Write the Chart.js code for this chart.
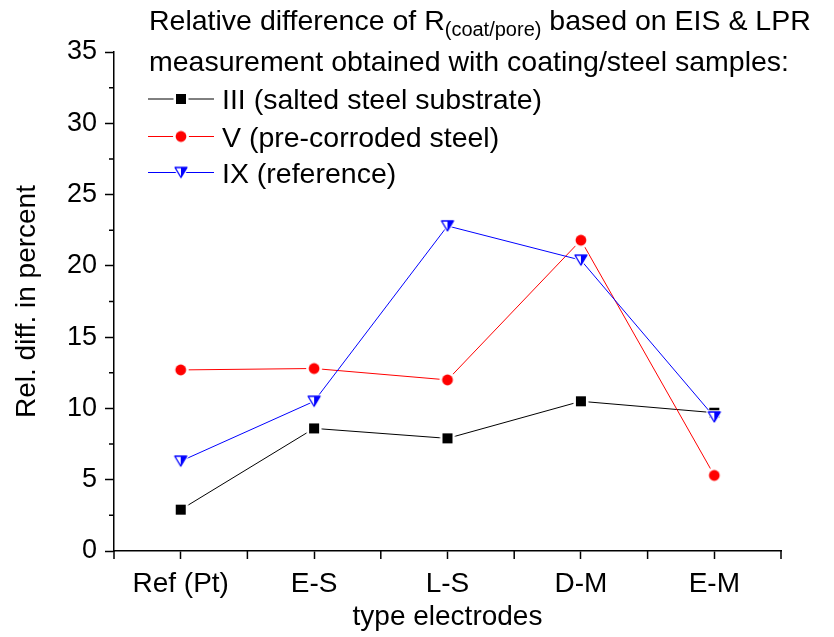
<!DOCTYPE html>
<html>
<head>
<meta charset="utf-8">
<title>Relative difference of R(coat/pore)</title>
<script src="https://cdn.jsdelivr.net/npm/chart.js@4"></script>
<style>
  body { margin: 0; background: #fff; }
  canvas { display: block; }
</style>
</head>
<body>
<canvas id="relDiffChart" width="834" height="637"></canvas>
<script>
const electrodes = ['Ref (Pt)', 'E-S', 'L-S', 'D-M', 'E-M'];
const saltedSteel = [2.9, 8.6, 7.9, 10.5, 9.7];
const preCorroded = [12.7, 12.8, 12.0, 21.8, 5.3];
const referenceSteel = [6.3, 10.5, 22.8, 20.4, 9.4];
const seriesNames = ['III (salted steel substrate)', 'V (pre-corroded steel)', 'IX (reference)'];
const yMin = 0, yMax = 35, yStep = 5;

const FONT = '"Liberation Sans", Arial, sans-serif';

// little canvases used as point styles, with a white rim so lines stop short of the marker
function makeMarker(shape, color) {
    const c = document.createElement('canvas');
    c.width = 20; c.height = 20;
    const g = c.getContext('2d');
    if (shape === 'square') {
        g.fillStyle = '#fff';
        g.fillRect(2.5, 2.5, 15, 15);
        g.fillStyle = color;
        g.fillRect(5, 5, 10, 10);
    } else if (shape === 'circle') {
        g.fillStyle = '#fff';
        g.beginPath(); g.arc(10, 10, 8, 0, Math.PI * 2); g.fill();
        g.fillStyle = color;
        g.beginPath(); g.arc(10, 10, 5.4, 0, Math.PI * 2); g.fill();
    } else {
        // downward triangle, right half filled
        const tri = () => { g.beginPath(); g.moveTo(4, 5); g.lineTo(16, 5); g.lineTo(10, 15); g.closePath(); };
        g.lineJoin = 'round';
        tri(); g.strokeStyle = '#fff'; g.lineWidth = 3.5; g.stroke();
        tri(); g.fillStyle = '#fff'; g.fill();
        g.beginPath(); g.moveTo(10, 5); g.lineTo(16, 5); g.lineTo(10, 15); g.closePath();
        g.fillStyle = color; g.fill();
        tri(); g.strokeStyle = color; g.lineWidth = 1.3; g.stroke();
    }
    return c;
}

const markers = [
    makeMarker('square', '#000000'),
    makeMarker('circle', '#ff0000'),
    makeMarker('triangle', '#0000ff')
];

// half-way ticks on y, category boundary ticks on x
const minorTicks = {
    id: 'minorTicks',
    afterDraw(chart) {
        const {ctx, scales: {x, y}} = chart;
        ctx.save();
        ctx.strokeStyle = '#000';
        ctx.lineWidth = 1.5;
        ctx.beginPath();
        for (let i = 0; i < y.ticks.length - 1; i++) {
            const py = y.getPixelForValue((y.ticks[i].value + y.ticks[i + 1].value) / 2);
            ctx.moveTo(y.right - 5, py);
            ctx.lineTo(y.right, py);
        }
        const half = (x.getPixelForValue(1) - x.getPixelForValue(0)) / 2;
        for (let i = 0; i <= electrodes.length; i++) {
            const px = x.getPixelForValue(0) - half + i * 2 * half;
            ctx.moveTo(px, x.top);
            ctx.lineTo(px, x.top + 8);
        }
        ctx.stroke();
        ctx.restore();
    }
};

// heading and series key in the upper part of the plot
const legendBlock = {
    id: 'legendBlock',
    afterDraw(chart) {
        const ctx = chart.ctx;
        const main = `28.5px ${FONT}`;
        const sub = `20px ${FONT}`;
        ctx.save();
        ctx.fillStyle = '#000';
        ctx.textBaseline = 'alphabetic';
        ctx.textAlign = 'left';

        let x = 149;
        ctx.font = main;
        ctx.fillText('Relative difference of R', x, 30);
        x += ctx.measureText('Relative difference of R').width;
        ctx.font = sub;
        ctx.fillText('(coat/pore)', x, 36);
        x += ctx.measureText('(coat/pore)').width;
        ctx.font = main;
        ctx.fillText(' based on EIS & LPR', x, 30);
        ctx.fillText('measurement obtained with coating/steel samples:', 149, 71);

        const rows = [99, 136.5, 172.5];
        chart.data.datasets.forEach((ds, i) => {
            const y = rows[i];
            ctx.strokeStyle = ds.borderColor;
            ctx.lineWidth = 1;
            ctx.beginPath();
            ctx.moveTo(148, y);
            ctx.lineTo(214, y);
            ctx.stroke();
            const img = ds.pointStyle;
            ctx.drawImage(img, 181 - img.width / 2, y - img.height / 2);
            ctx.fillStyle = '#000';
            ctx.fillText(ds.label, 222, y + 10);
        });
        ctx.restore();
    }
};

new Chart(document.getElementById('relDiffChart'), {
    type: 'line',
    data: {
        labels: electrodes,
        datasets: [
            { label: seriesNames[0], data: saltedSteel, borderColor: '#000000', pointStyle: markers[0], order: 2 },
            { label: seriesNames[1], data: preCorroded, borderColor: '#ff0000', pointStyle: markers[1], order: 1 },
            { label: seriesNames[2], data: referenceSteel, borderColor: '#0000ff', pointStyle: markers[2], order: 0 }
        ]
    },
    options: {
        responsive: false,
        animation: false,
        devicePixelRatio: 1,
        layout: { padding: { top: 52, right: 53, left: 0, bottom: 0 } },
        elements: {
            line: { borderWidth: 1, tension: 0, fill: false },
            point: { radius: 6 }
        },
        plugins: {
            legend: { display: false },
            title: { display: false },
            tooltip: { enabled: false }
        },
        scales: {
            x: {
                type: 'category',
                offset: true,
                grid: { drawOnChartArea: false, offset: false, tickLength: 8, tickColor: '#000', tickWidth: 1.5 },
                border: { display: true, color: '#000', width: 1.5 },
                ticks: { color: '#000', font: { family: FONT, size: 28 }, padding: 8, maxRotation: 0, autoSkip: false },
                title: { display: true, text: 'type electrodes', color: '#000', font: { family: FONT, size: 28 }, padding: { top: 0, bottom: 3 } },
                afterFit: s => { s.height = 86; }
            },
            y: {
                min: yMin,
                max: yMax,
                grid: { drawOnChartArea: false, tickLength: 9, tickColor: '#000', tickWidth: 1.5 },
                border: { display: true, color: '#000', width: 1.5 },
                ticks: { stepSize: yStep, color: '#000', font: { family: FONT, size: 27 }, padding: 8 },
                title: { display: true, text: 'Rel. diff. in percent', color: '#000', font: { family: FONT, size: 28 }, padding: { top: 10, bottom: 0 } },
                afterFit: s => { s.width = 114; }
            }
        }
    },
    plugins: [minorTicks, legendBlock]
});
</script>
</body>
</html>
